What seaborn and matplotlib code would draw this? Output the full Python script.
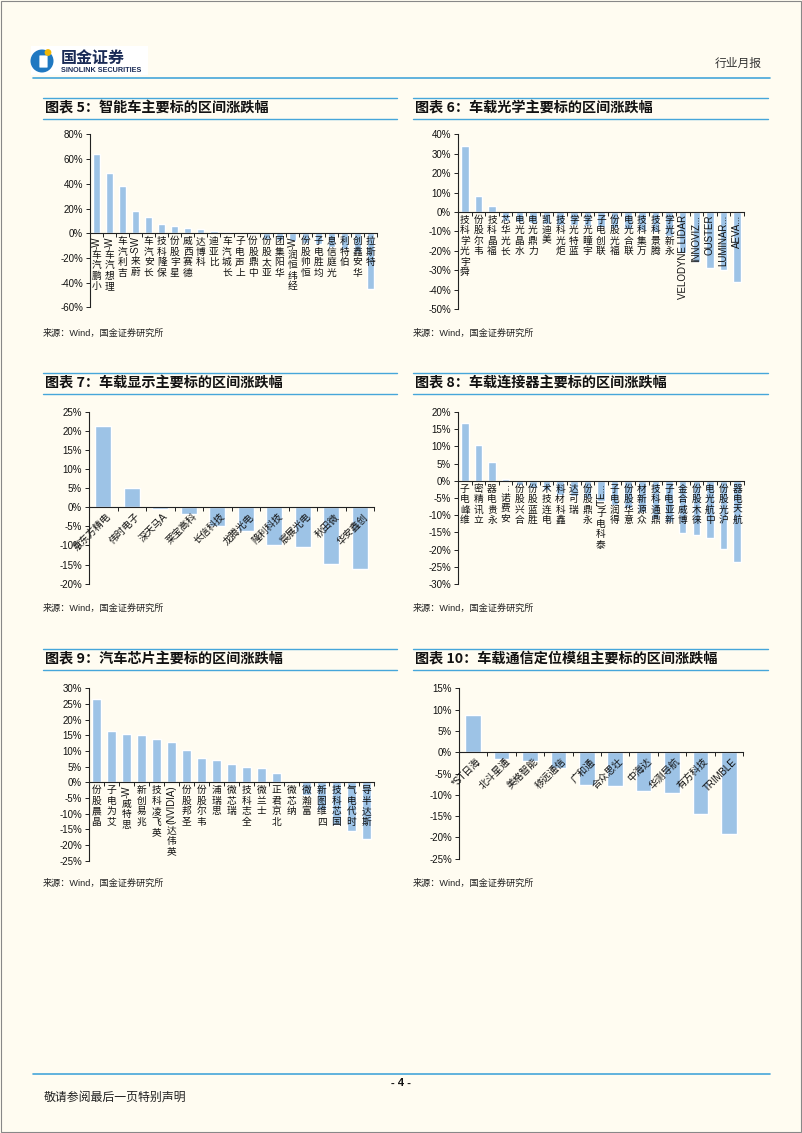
import re
import numpy as np
import matplotlib
matplotlib.use('Agg')
import matplotlib.pyplot as plt
from matplotlib.font_manager import FontProperties
from matplotlib.textpath import TextToPath
from matplotlib.patches import Rectangle, Circle, FancyBboxPatch
from matplotlib.ticker import FuncFormatter
import seaborn as sns

# ---- data (percent change over the period) ----
smart_car_names = ['小鹏汽车-W', '理想汽车-W', '吉利汽车', '蔚来-SW', '长安汽车', '保隆科技',
                   '星宇股份', '德赛西威', '科博达', '比亚迪', '长城汽车', '上声电子', '中鼎股份',
                   '亚太股份', '华阳集团', '经纬恒润-W', '恒帅股份', '均胜电子', '光庭信息',
                   '伯特利', '华安鑫创', '特斯拉']
smart_car_pct = [64.0, 48.5, 38.0, 17.8, 13.0, 7.5, 5.7, 4.0, 3.2, 1.9, 0.8, 0.4, -0.3,
                 -4.6, -5.4, -6.0, -7.5, -9.0, -11.0, -12.5, -15.0, -45.0]

optics_names = ['舜宇光学科技', '韦尔股份', '福晶科技', '长光华芯', '水晶光电', '力鼎光电',
                '美迪凯', '炬光科技', '蓝特光学', '宇瞳光学', '联创电子', '福光股份', '联合光电',
                '万集科技', '腾景科技', '永新光学', 'VELODYNE LIDAR', 'INNOVIZ...', 'OUSTER',
                'LUMINAR...', 'AEVA...']
optics_pct = [34.0, 8.1, 2.9, -4.5, -5.0, -5.5, -6.0, -6.5, -7.0, -7.5, -8.0, -8.5, -9.0,
              -9.5, -10.5, -12.5, -21.0, -25.9, -29.0, -29.8, -36.2]

display_names = ['京东方精电', '伟时电子', '深天马A', '莱宝高科', '长信科技', '龙腾光电',
                 '隆利科技', '宸展光电', '秋田微', '华安鑫创']
display_pct = [21.3, 5.0, -0.5, -1.7, -4.9, -6.2, -10.0, -10.4, -14.8, -16.1]

connector_names = ['维峰电子', '立讯精密', '永贵电器', '安费诺...', '合兴股份', '胜蓝股份',
                   '电连技术', '鑫科材料', '瑞可达', '永鼎股份', '泰科电子(TE...', '得润电子',
                   '意华股份', '众源新材', '鼎通科技', '新亚电子', '博威合金', '徕木股份',
                   '中航光电', '沪光股份', '航天电器']
connector_pct = [16.9, 10.3, 5.4, 0.5, -1.1, -2.0, -2.8, -4.0, -4.5, -5.0, -6.0, -7.0,
                 -8.0, -9.0, -11.0, -12.0, -15.2, -15.9, -16.7, -19.7, -23.5]

chip_names = ['晶晨股份', '艾为电子', '思特威-W', '兆易创新', '英飞凌科技', '英伟达(NVIDIA)',
              '圣邦股份', '韦尔股份', '思瑞浦', '瑞芯微', '全志科技', '士兰微', '北京君正',
              '纳芯微', '富瀚微', '四维图新', '国芯科技', '时代电气', '斯达半导']
chip_pct = [26.6, 16.4, 15.4, 15.1, 13.8, 12.9, 10.2, 7.7, 7.0, 5.7, 4.8, 4.5, 2.9,
            -0.2, -4.0, -9.0, -13.5, -15.7, -18.2]

gnss_names = ['*ST日海', '北斗星通', '美格智能', '移远通信', '广和通', '合众思壮', '中海达',
              '华测导航', '有方科技', 'TRIMBLE']
gnss_pct = [8.75, -1.5, -2.0, -3.6, -7.7, -7.9, -9.1, -9.5, -14.5, -19.2]

titles = ['图表 5：智能车主要标的区间涨跌幅', '图表 6：车载光学主要标的区间涨跌幅',
          '图表 7：车载显示主要标的区间涨跌幅', '图表 8：车载连接器主要标的区间涨跌幅',
          '图表 9：汽车芯片主要标的区间涨跌幅', '图表 10：车载通信定位模组主要标的区间涨跌幅']
source_text = '来源：Wind，国金证券研究所'

W, H = 802, 1133
BG = '#FFFCF1'
BAR = '#9DC3E6'
LINE = '#46A6DA'
CJK = 'Noto Sans CJK SC'

sns.set_style('ticks')
plt.rcParams['font.family'] = ['Liberation Sans', CJK, 'DejaVu Sans']

tp = TextToPath()
LATIN = re.compile(r'[A-Za-z0-9()\-\.\*]+(?: [A-Za-z0-9()\-\.\*]+)*')


def split_tokens(s):
    out, i = [], 0
    while i < len(s):
        m = LATIN.match(s, i)
        if m:
            out.append((m.group(), True))
            i = m.end()
        else:
            out.append((s[i], False))
            i += 1
    return out


def vertical_label(ax, i, text, size=7):
    # upright CJK characters stacked, latin runs turned 90 degrees, read bottom -> top
    off = 2.0
    for tok, latin in reversed(split_tokens(text)):
        if latin:
            w = tp.get_text_width_height_descent(
                tok, FontProperties(family='Liberation Sans', size=size), ismath=False)[0]
            ax.annotate(tok, (i, 0), xytext=(0, -off), textcoords='offset points',
                        rotation=90, ha='center', va='top', fontsize=size,
                        family='Liberation Sans', color='#111')
            off += w + 0.8
        else:
            ax.annotate(tok, (i, 0), xytext=(0, -off), textcoords='offset points',
                        ha='center', va='top', fontsize=size, family=CJK, color='#111')
            off += size * 1.08


def slanted_label(ax, i, text, size=7):
    ax.annotate(text, (i, 0), xytext=(2, -3), textcoords='offset points', rotation=45,
                rotation_mode='anchor', ha='right', va='top', fontsize=size, color='#111')


def bar_panel(fig, box, names, values, ylim, step, slanted=False):
    x0, x1, ytop, ybot = box
    ax = fig.add_axes([x0 / W, 1 - ybot / H, (x1 - x0) / W, (ybot - ytop) / H])
    ax.set_facecolor('none')
    sns.barplot(x=names, y=values, color=BAR, saturation=1, width=0.55, ax=ax)
    n = len(names)
    ax.set_xlim(-0.5, n - 0.5)
    ax.set_ylim(*ylim)
    ax.set_yticks(np.arange(ylim[0], ylim[1] + step / 2, step))
    ax.yaxis.set_major_formatter(FuncFormatter(lambda v, p: f'{v:.0f}%'))
    ax.set_xlabel('')
    ax.set_ylabel('')
    ax.spines[['top', 'right']].set_visible(False)
    ax.spines['bottom'].set_position(('data', 0))
    for s in ('left', 'bottom'):
        ax.spines[s].set_color('#222')
        ax.spines[s].set_linewidth(0.8)
    ax.tick_params(axis='y', labelsize=7, length=3, width=0.7, colors='#222',
                   labelcolor='#111', pad=2)
    ax.tick_params(axis='x', which='major', length=0, labelbottom=False)
    ax.set_xticks(np.arange(n + 1) - 0.5, minor=True)
    ax.tick_params(axis='x', which='minor', length=3, width=0.7, color='#222', direction='out')
    for i, name in enumerate(names):
        if slanted:
            slanted_label(ax, i, name)
        else:
            vertical_label(ax, i, name)
    return ax


fig = plt.figure(figsize=(W / 100, H / 100), dpi=100, facecolor=BG)
page = fig.add_axes([0, 0, 1, 1])
page.set_xlim(0, W)
page.set_ylim(H, 0)
page.axis('off')

# page frame
page.add_patch(Rectangle((0.5, 0.5), W - 1.5, H - 2, fill=False, edgecolor='#888', lw=0.8))

# header with logo
page.add_patch(Rectangle((31, 46), 117, 29, facecolor='white', edgecolor='none'))
page.add_patch(Circle((42, 61), 11.5, facecolor='#1F78C1', edgecolor='none'))
page.add_patch(FancyBboxPatch((40, 56), 7, 11, boxstyle='round,pad=0.6',
                              facecolor='white', edgecolor='none'))
page.add_patch(Circle((48, 52.5), 3.4, facecolor='#F2B705', edgecolor='none'))
page.text(61, 58, '国金证券', fontsize=11.5, weight='bold', family=CJK, color='#1a2b56',
          va='center', ha='left')
page.text(61, 70.5, 'SINOLINK SECURITIES', fontsize=5.2, weight='bold', color='#1a2b56',
          va='center', ha='left')
page.text(762, 63, '行业月报', fontsize=8.5, family=CJK, color='#333', va='center', ha='right')
page.plot([33, 770], [77.7, 77.7], color=LINE, lw=1.2)

# footer
page.plot([33, 770], [1074, 1074], color=LINE, lw=1.2)
page.text(401, 1083, '- 4 -', fontsize=8, weight='bold', ha='center', va='center', color='#111')
page.text(44, 1097, '敬请参阅最后一页特别声明', fontsize=8.6, family=CJK, ha='left',
          va='center', color='#222')

# panel titles and sources
row_title_y = [108.5, 383.5, 659.5]
row_source_y = [333, 608, 883]
cols = [(43, 397), (413, 768)]
k = 0
for r in range(3):
    for c in range(2):
        xa, xb = cols[c]
        ty = row_title_y[r]
        page.plot([xa, xb], [ty - 10.8, ty - 10.8], color=LINE, lw=1.0)
        page.plot([xa, xb], [ty + 10.8, ty + 10.8], color=LINE, lw=1.0)
        page.text(xa + 2, ty, titles[k], fontsize=10.2, weight='bold', family=CJK,
                  ha='left', va='center', color='#111')
        page.text(xa, row_source_y[r], source_text, fontsize=6.6, ha='left', va='center',
                  color='#222')
        k += 1

bar_panel(fig, (90, 377, 134.3, 307.5), smart_car_names, smart_car_pct, (-60, 80), 20)
bar_panel(fig, (458, 744, 134.3, 308.9), optics_names, optics_pct, (-50, 40), 10)
bar_panel(fig, (89, 374, 412, 583.6), display_names, display_pct, (-20, 25), 5, slanted=True)
bar_panel(fig, (458, 744, 412, 584), connector_names, connector_pct, (-30, 20), 5)
bar_panel(fig, (89, 374, 688.3, 860.6), chip_names, chip_pct, (-25, 30), 5)
bar_panel(fig, (459, 743, 688.3, 858.7), gnss_names, gnss_pct, (-25, 15), 5, slanted=True)

fig.savefig('out.png', dpi=100, facecolor=BG)
